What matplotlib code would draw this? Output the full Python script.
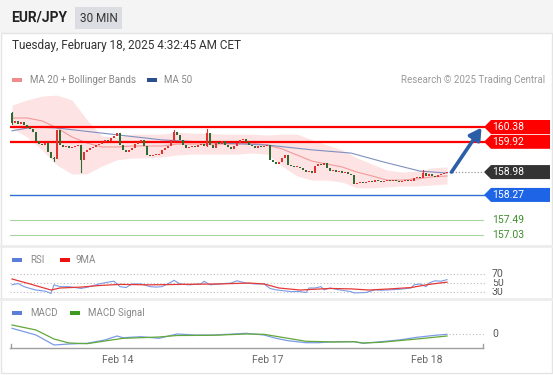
import matplotlib
matplotlib.use('Agg')
import matplotlib.pyplot as plt
import matplotlib.transforms as mtransforms
from matplotlib.patches import Rectangle, Polygon

plt.rcParams['font.family'] = ['Roboto', 'DejaVu Sans']

# ---------------- data ----------------
first_open = 160.81
closes = [
    160.50, 160.57, 160.47, 160.54, 160.44, 160.38, 160.32, 160.23, 159.95, 159.85,
    159.82, 159.88, 159.60, 159.42, 159.39, 160.29, 159.82, 159.76, 159.79, 159.73,
    159.76, 159.79, 159.82, 159.36, 159.60, 159.67, 159.73, 159.76, 159.82, 159.85,
    159.91, 159.98, 159.95, 160.04, 160.10, 160.19, 159.82, 159.67, 159.60, 159.67,
    159.73, 159.85, 159.91, 159.98, 159.79, 159.51, 159.48, 159.51, 159.51, 159.54,
    159.67, 159.73, 159.79, 159.98, 160.23, 160.13, 159.98, 159.82, 159.73, 159.76,
    159.79, 159.76, 159.82, 159.85, 159.79, 160.19, 159.82, 159.73, 159.91, 159.85,
    159.95, 159.82, 159.76, 159.70, 159.79, 159.88, 159.98, 160.01, 159.91, 159.82,
    159.79, 159.73, 159.79, 159.76, 159.79, 159.82, 159.36, 159.29, 159.23, 159.29,
    159.42, 159.51, 159.20, 159.17, 159.14, 159.14, 159.11, 159.05, 158.98, 159.02,
    158.95, 159.17, 159.23, 159.20, 159.26, 159.11, 159.02, 159.05, 158.98, 159.02,
    158.95, 158.98, 158.92, 158.89, 158.61, 158.64, 158.67, 158.64, 158.67, 158.70,
    158.67, 158.73, 158.70, 158.67, 158.70, 158.73, 158.70, 158.73, 158.70, 158.67,
    158.70, 158.73, 158.70, 158.70, 158.80, 158.83, 158.80, 158.95, 158.86, 158.92,
    158.86, 158.83, 158.89, 158.92, 158.95, 158.98,
]
wick_idx = [0, 14, 23, 54, 65, 137]
wick_high = [160.84, 159.45, 159.82, 160.29, 160.32, 159.05]
wick_low = [160.47, 159.33, 158.98, 159.95, 159.79, 158.86]

bb_idx = list(range(0, 146, 5))
bb_up = [161.06, 161.22, 161.34, 161.37, 161.22, 160.60, 160.10, 160.07, 160.16, 160.16,
         160.16, 160.22, 160.19, 160.19, 160.16, 160.16, 160.16, 160.13, 160.16, 160.16,
         159.98, 159.82, 159.67, 159.42, 159.23, 159.04, 158.98, 159.01, 159.11, 159.14]
bb_mid = [160.66, 160.66, 160.57, 160.35, 160.07, 159.88, 159.76, 159.76, 159.79, 159.79,
          159.79, 159.85, 159.85, 159.85, 159.85, 159.85, 159.88, 159.82, 159.70, 159.51,
          159.32, 159.23, 159.14, 158.98, 158.86, 158.73, 158.73, 158.77, 158.83, 158.86]
bb_low = [160.35, 160.07, 159.67, 159.20, 158.92, 158.92, 159.17, 159.36, 159.42, 159.42,
          159.45, 159.51, 159.54, 159.54, 159.54, 159.54, 159.57, 159.54, 159.17, 158.86,
          158.73, 158.73, 158.67, 158.49, 158.49, 158.52, 158.55, 158.55, 158.58, 158.61]

ma50_idx = [0, 7, 15, 30, 50, 70, 85, 100, 113, 124, 136, 145]
ma50 = [160.26, 160.38, 160.35, 160.19, 159.98, 159.88, 159.82, 159.67, 159.57, 159.29, 159.01, 158.95]

levels_red = [160.38, 159.92]
level_blue = 158.27
levels_green = [157.49, 157.03]
last_price = 158.98
target = 160.38

rsi_idx = [0, 2, 4, 6, 8, 11, 13, 14, 16, 19, 23, 26, 29, 32, 34, 36, 38, 40, 43, 46, 48, 50,
           53, 54, 56, 59, 63, 64, 66, 69, 73, 75, 78, 81, 84, 86, 88, 93, 96, 98, 99, 101,
           103, 104, 106, 109, 113, 114, 118, 121, 123, 126, 129, 133, 134, 136, 138, 139,
           141, 143, 145]
rsi = [47, 50, 43, 39, 35.5, 33, 28, 47, 43, 43, 39, 43, 49, 53, 55, 43, 41, 49, 49, 43, 42, 43,
       53, 57, 49, 47, 49, 55, 47, 49, 51, 56, 51, 49, 49, 39, 36, 32, 32, 30, 40, 40,
       43, 36, 40, 36, 32, 29, 30, 36, 35, 36, 37, 40, 47, 49, 43, 51,
       56, 55, 58.6]
rsi_ma_idx = [0, 6, 13, 16, 23, 29, 36, 46, 56, 69, 79, 84, 89, 96, 106, 113, 119, 126, 133, 139, 145]
rsi_ma = [60, 49, 35.5, 40, 42, 45.5, 48, 47, 48, 49, 51, 49, 40, 35.5, 39, 38, 35.5, 38, 41, 48, 53]
rsi_levels = [30, 50, 70]

macd_idx = [0, 8, 14, 19, 25, 31, 35, 37, 43, 49, 55, 61, 67, 72, 78, 84, 88, 92, 98, 102,
            108, 114, 117, 123, 129, 135, 141, 145]
macd = [0.057, -0.010, -0.110, -0.100, -0.093, -0.060, -0.020, -0.037, -0.027, -0.043, 0.000,
        -0.010, -0.010, -0.003, 0.007, -0.010, -0.043, -0.067, -0.087, -0.087, -0.077, -0.077,
        -0.093, -0.077, -0.060, -0.033, -0.013, -0.003]
sig_idx = [0, 8, 14, 19, 25, 31, 37, 43, 49, 55, 67, 78, 84, 92, 98, 108, 114, 117, 123, 135, 145]
macd_sig = [0.090, 0.040, -0.050, -0.090, -0.097, -0.070, -0.043, -0.037, -0.030, -0.015,
            -0.013, 0.000, -0.003, -0.043, -0.073, -0.080, -0.077, -0.090, -0.083, -0.050, -0.020]

date_idx = [35.3, 85.3, 138.3]
date_labels = ['Feb 14', 'Feb 17', 'Feb 18']

# ---------------- layout ----------------
W, H = 553, 375
fig = plt.figure(figsize=(W / 100, H / 100), dpi=100)
fig.patch.set_facecolor('white')


def fr(x0, y0, x1, y1):
    return [x0 / W, 1 - y1 / H, (x1 - x0) / W, (y1 - y0) / H]


bg = fig.add_axes([0, 0, 1, 1], zorder=0)
bg.set_xlim(0, W)
bg.set_ylim(H, 0)
bg.axis('off')

bg.add_patch(Rectangle((0, 0), W, 33, color='#f4f4f5', lw=0))
bg.add_patch(Rectangle((1, 33), W - 2.5, H - 35, fill=False, ec='#e4e4e4', lw=1))
bg.plot([1, W - 1.5], [246, 246], color='#ececec', lw=2)
bg.plot([1, W - 1.5], [299, 299], color='#ececec', lw=2)

bg.text(11, 18, 'EUR/JPY', fontsize=10, fontweight='bold', color='#222222', va='center')
bg.add_patch(Rectangle((75, 7), 47, 22, color='#dcdde2', lw=0))
bg.text(98.5, 18, '30 MIN', fontsize=8.5, color='#333333', va='center', ha='center')
bg.text(12, 45, 'Tuesday, February 18, 2025 4:32:45 AM CET', fontsize=8.5, color='#333333',
        va='center')

LEG = dict(fontsize=7, color='#888888', va='center')
bg.add_patch(Rectangle((12, 78), 10, 4, color='#f28b8b', lw=0))
bg.text(30, 80, 'MA 20 + Bollinger Bands', **LEG)
bg.add_patch(Rectangle((147, 78), 10, 4, color='#2a4f8f', lw=0))
bg.text(164, 80, 'MA 50', **LEG)
bg.text(545, 80, 'Research \u00a9 2025 Trading Central', fontsize=7, color='#9a9a9a',
        va='center', ha='right')

# ---------------- main price panel ----------------
XL = (-2 / 3, 473 / 3)
ax = fig.add_axes(fr(10, 95, 485, 243), zorder=2)
ax.set_facecolor('none')
ax.set_xlim(*XL)
ax.set_ylim(156.777, 161.374)
ax.axis('off')

ax.fill_between(bb_idx, bb_low, bb_up, color='#fde3e3', lw=0, zorder=1)
ax.plot(bb_idx, bb_mid, color='#f29a9a', lw=0.8, zorder=2)
ax.plot(ma50_idx, ma50, color='#7f90c0', lw=0.8, zorder=2)

for lv in levels_red:
    ax.plot([XL[0], XL[1]], [lv, lv], color='#ff0000', lw=1.6, zorder=3)
ax.plot([XL[0], XL[1]], [level_blue, level_blue], color='#2f6fd6', lw=1.0, zorder=3)
for lv in levels_green:
    ax.plot([XL[0], 157.0], [lv, lv], color='#a8d5a0', lw=0.8, zorder=3)

opens = [first_open] + closes[:-1]
for i, (o, c) in enumerate(zip(opens, closes)):
    col = '#e53030' if c >= o else '#2e6b30'
    lo, hi = min(o, c), max(o, c)
    if hi - lo < 0.02:
        hi = lo + 0.02
    ax.bar(i, hi - lo, bottom=lo, width=0.7, color=col, lw=0, zorder=4)
for i, hgh, lw_ in zip(wick_idx, wick_high, wick_low):
    o, c = opens[i], closes[i]
    col = '#e53030' if c >= o else '#2e6b30'
    ax.plot([i, i], [lw_, hgh], color=col, lw=0.8, zorder=4)

n = len(closes)
ax.plot([n - 0.5, XL[1]], [last_price, last_price], color='#9a9a9a', lw=0.9,
        ls=(0, (1, 1.5)), zorder=3, clip_on=False)
ax.annotate('', xy=(n + 10.5, target - 0.02), xytext=(n + 0.5, last_price),
            arrowprops=dict(arrowstyle='-|>,head_length=0.7,head_width=0.4', color='#2b5ea7',
                            lw=2.6, shrinkA=0, shrinkB=0),
            annotation_clip=False, zorder=6)

# price tags
trans = mtransforms.blended_transform_factory(bg.transData, ax.transData)
ppx = (161.374 - 156.777) / 148.0  # price per pixel


def tag(price, color):
    h = 7 * ppx
    pts = [(484, price), (491, price + h), (550, price + h), (550, price - h), (491, price - h)]
    bg.add_patch(Polygon(pts, closed=True, color=color, lw=0, transform=trans, zorder=5))
    bg.text(492, price, f'{price:.2f}', color='white', fontsize=7.5, va='center',
            transform=trans, zorder=6)


tag(levels_red[0], '#ff0000')
tag(levels_red[1], '#ff0000')
tag(last_price, '#333333')
tag(level_blue, '#1e64e6')
for lv in levels_green:
    bg.text(492, lv, f'{lv:.2f}', color='#3f8f2f', fontsize=7.5, va='center', transform=trans)

# ---------------- RSI panel ----------------
rax = fig.add_axes(fr(10, 265, 485, 297), zorder=2)
rax.set_facecolor('none')
rax.set_xlim(*XL)
rax.set_ylim(20, 91.1)
rax.axis('off')
for lv in rsi_levels:
    rax.plot([XL[0], XL[1]], [lv, lv], color='#bbbbbb', lw=0.8, ls=(0, (1, 2)))
rax.plot(rsi_idx, rsi, color='#7b9be6', lw=0.8)
rax.plot(rsi_ma_idx, rsi_ma, color='#e53935', lw=0.9)
rtrans = mtransforms.blended_transform_factory(bg.transData, rax.transData)
for lv in rsi_levels:
    bg.text(492, lv, str(lv), fontsize=7.5, color='#555555', va='center', transform=rtrans,
            bbox=dict(boxstyle='square,pad=0', fc='white', ec='none'))

bg.add_patch(Rectangle((12, 258), 10, 4, color='#5b7fd6', lw=0))
bg.text(30, 260, 'RSI', **LEG)
bg.add_patch(Rectangle((60, 258), 10, 4, color='#ee1111', lw=0))
bg.text(76, 260, '9MA', **LEG)

# ---------------- MACD panel ----------------
max_ = fig.add_axes(fr(10, 318, 485, 347), zorder=2)
max_.set_facecolor('none')
max_.set_xlim(*XL)
max_.set_ylim(-0.13, 0.16)
max_.axis('off')
max_.plot([n - 0.5, XL[1]], [0, 0], color='#bbbbbb', lw=0.8, ls=(0, (1, 2)))
max_.plot(macd_idx, macd, color='#7b9be6', lw=0.9)
max_.plot(sig_idx, macd_sig, color='#62a83a', lw=0.9)
mtrans = mtransforms.blended_transform_factory(bg.transData, max_.transData)
bg.text(492, 0, '0', fontsize=7.5, color='#555555', va='center', transform=mtrans)

bg.add_patch(Rectangle((12, 311), 10, 4, color='#5b7fd6', lw=0))
bg.text(30, 313, 'MACD', **LEG)
bg.add_patch(Rectangle((70, 311), 10, 4, color='#3f9b1f', lw=0))
bg.text(88, 313, 'MACD Signal', **LEG)

# ---------------- x axis ----------------
bg.plot([10, 483], [348, 348], color='#a0a0a0', lw=1)
bg.plot([10.5, 10.5], [344, 348], color='#a0a0a0', lw=1)
bg.plot([482.5, 482.5], [344, 348], color='#a0a0a0', lw=1)
xtrans = mtransforms.blended_transform_factory(max_.transData, bg.transData)
for d, lab in zip(date_idx, date_labels):
    bg.text(d, 360, lab, fontsize=7.5, color='#666666', ha='center', va='center',
            transform=xtrans)

fig.savefig('out.png', dpi=100, facecolor='white')
